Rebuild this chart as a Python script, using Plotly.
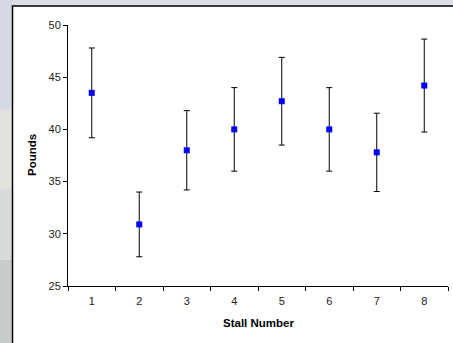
import plotly.graph_objects as go

stalls = ["1", "2", "3", "4", "5", "6", "7", "8"]
pounds = [43.5, 30.9, 38.0, 40.0, 42.7, 40.0, 37.8, 44.2]
err = [4.3, 3.1, 3.8, 4.0, 4.2, 4.0, 3.75, 4.45]

W, H = 453, 343
L, R, T, B = 68, 5, 25, 57
pw, ph = W - L - R, H - T - B

def px_x(x):
    return (x - L) / pw

def px_y(y):
    return (H - B - y) / ph

fig = go.Figure()
fig.add_trace(go.Scatter(
    x=stalls, y=pounds, mode="markers",
    marker=dict(symbol="square", size=6, color="#0000ff"),
    error_y=dict(type="data", array=err, visible=True, color="black", thickness=1, width=3),
    showlegend=False,
))

shapes = []
bg = [(0, 110, "#d6dae4"), (110, 190, "#e3e2dc"), (190, 260, "#d7dbdb"), (260, 343, "#c8ccc8")]
for y0, y1, c in bg:
    shapes.append(dict(type="rect", xref="paper", yref="paper", layer="below",
                       x0=px_x(-5), x1=px_x(13), y0=px_y(y1), y1=px_y(y0),
                       fillcolor=c, line=dict(width=0)))
shapes.append(dict(type="rect", xref="paper", yref="paper", layer="below",
                   x0=px_x(12.5), x1=px_x(470), y0=px_y(360), y1=px_y(6),
                   fillcolor="white", line=dict(color="black", width=1.5)))

annotations = [
    dict(text="<b>Stall Number</b>", xref="paper", yref="paper", x=px_x(258), y=px_y(323),
         showarrow=False, xanchor="center", yanchor="middle", font=dict(size=11.5)),
    dict(text="<b>Pounds</b>", xref="paper", yref="paper", x=px_x(32), y=px_y(155),
         showarrow=False, xanchor="center", yanchor="middle", textangle=-90, font=dict(size=11.5)),
]

fig.update_layout(
    width=W, height=H,
    margin=dict(l=L, r=R, t=T, b=B, autoexpand=False),
    paper_bgcolor="#dadde6",
    plot_bgcolor="rgba(0,0,0,0)",
    font=dict(family="Liberation Sans, Arial, sans-serif", color="black", size=11),
    shapes=shapes,
    annotations=annotations,
    xaxis=dict(
        type="category", range=[-0.5, 7.5], automargin=False,
        tickson="boundaries", ticks="outside", ticklen=4, tickcolor="black",
        ticklabelstandoff=5,
        showline=True, linecolor="black", linewidth=1, showgrid=False,
        tickfont=dict(size=11, color="#222"),
    ),
    yaxis=dict(
        range=[25, 50], dtick=5, tick0=25, automargin=False,
        ticks="outside", ticklen=4, tickcolor="black",
        showline=True, linecolor="black", linewidth=1, showgrid=False, zeroline=False,
        tickfont=dict(size=11, color="#222"),
    ),
)

fig.write_html(
    "out.html",
    config={"displayModeBar": False},
    post_script="document.body.style.margin='0';document.body.style.padding='0';document.body.style.overflow='hidden';",
)
